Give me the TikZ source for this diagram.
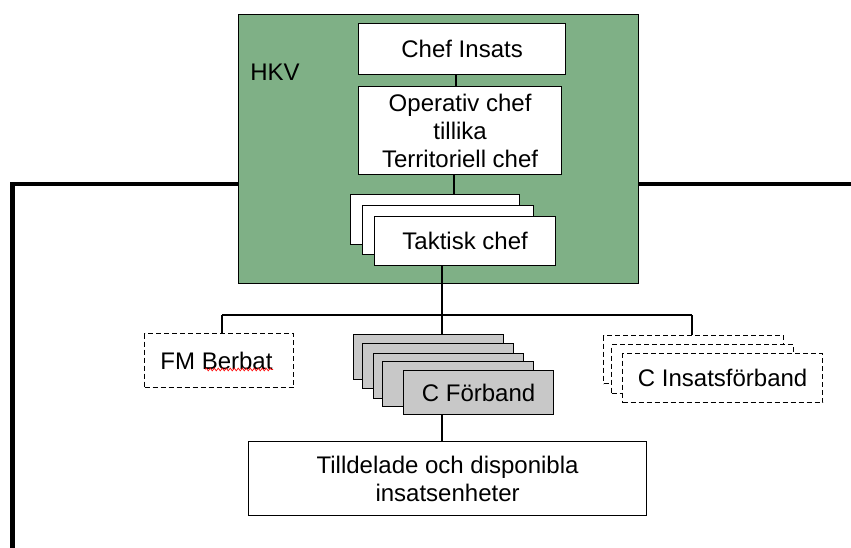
\documentclass[tikz,border=0pt]{standalone}
\usepackage{fontspec}
\setmainfont{Liberation Sans}
\usetikzlibrary{decorations.pathmorphing}
\definecolor{hkvgreen}{RGB}{127,176,134}
\definecolor{unitgray}{RGB}{200,200,200}
\begin{document}
\begin{tikzpicture}[x=1pt,y=-1pt,
  every node/.style={font=\fontsize{24}{28}\selectfont, inner sep=0pt, align=center},
  box/.style={draw=black, line width=1.2pt, fill=white, anchor=north west},
  graybox/.style={box, fill=unitgray},
  dashbox/.style={box, line width=1.3pt, dash pattern=on 5pt off 3pt},
  wire/.style={draw=black, line width=1.2pt},
  heavy/.style={draw=black, line width=4.5pt, line join=miter}]
\useasboundingbox (0,0) rectangle (851,548);

% main frame line, meeting the HKV block on both sides
\coordinate (frameL) at (12.5,548);
\coordinate (frameC) at (12.5,184);
\coordinate (frameR) at (851,184);

% HKV block
\node[box, fill=hkvgreen, minimum width=400, minimum height=269] (hkv) at (238,14) {};
\draw[heavy] (frameL) -- (frameC) -- (frameC -| hkv.west);
\draw[heavy] (frameR -| hkv.east) -- (frameR);
\node (hkvlabel) at (275,72) {HKV};

\node[box, minimum width=207, minimum height=51] (chef) at (358,23) {};
\node at (chef.center) {Chef Insats};
\node[box, minimum width=203, minimum height=88] (oper) at (358,86) {};
\node at (oper.center) {Operativ chef\\tillika\\Territoriell chef};

\node[box, minimum width=169, minimum height=50] (tak1) at (350,194) {};
\node[box, minimum width=171, minimum height=49] (tak2) at (362,205) {};
\node[box, minimum width=181, minimum height=49] (tak3) at (374,216) {};
\node at (tak3.center) {Taktisk chef};

% spines
\coordinate (spineA) at (456,0);
\coordinate (spineB) at (454,0);
\coordinate (spineC) at (442,0);
\coordinate (busL) at (222,315);
\coordinate (busR) at (692,315);

\draw[wire] (chef.south -| spineA) -- (oper.north -| spineA);
\draw[wire] (oper.south -| spineB) -- (tak1.north -| spineB);
\draw[wire] (tak3.south -| spineC) -- (busL -| spineC);
\draw[wire] (busL) -- (busR);

% FM Berbat
\node[dashbox, fill=none, minimum width=149, minimum height=54] (fm) at (144,333) {};
\node (fmtext) at (216.5,361) {FM Berbat};
\draw[red, line width=0.7pt, decorate, decoration={snake, amplitude=1.3pt, segment length=4pt}]
  (205,369.5) -- (273,369.5);
\draw[wire] (busL) -- (fm.north -| busL);

% C Förband stack
\node[graybox, minimum width=150, minimum height=45] (fb1) at (353,334) {};
\node[graybox, minimum width=151, minimum height=45] (fb2) at (362,343) {};
\node[graybox, minimum width=150, minimum height=45] (fb3) at (373,353) {};
\node[graybox, minimum width=151, minimum height=45] (fb4) at (382,361) {};
\node[graybox, minimum width=150, minimum height=44] (fb5) at (403,370) {};
\node at (fb5.center) {C Förband};
\draw[wire] (busL -| spineC) -- (fb1.north -| spineC);

% C Insatsförband stack
\node[dashbox, minimum width=180, minimum height=48] (ci1) at (603,335) {};
\node[dashbox, minimum width=182, minimum height=49] (ci2) at (611,344) {};
\node[dashbox, minimum width=200, minimum height=49] (ci3) at (622,353) {};
\node at (ci3.center) {C Insatsförband};
\draw[wire] (busR) -- (ci1.north -| busR);

% assigned units
\node[box, minimum width=398, minimum height=74] (till) at (248,441) {};
\node at (till.center) {Tilldelade och disponibla\\insatsenheter};
\draw[wire] (fb5.south -| spineC) -- (till.north -| spineC);
\end{tikzpicture}
\end{document}
